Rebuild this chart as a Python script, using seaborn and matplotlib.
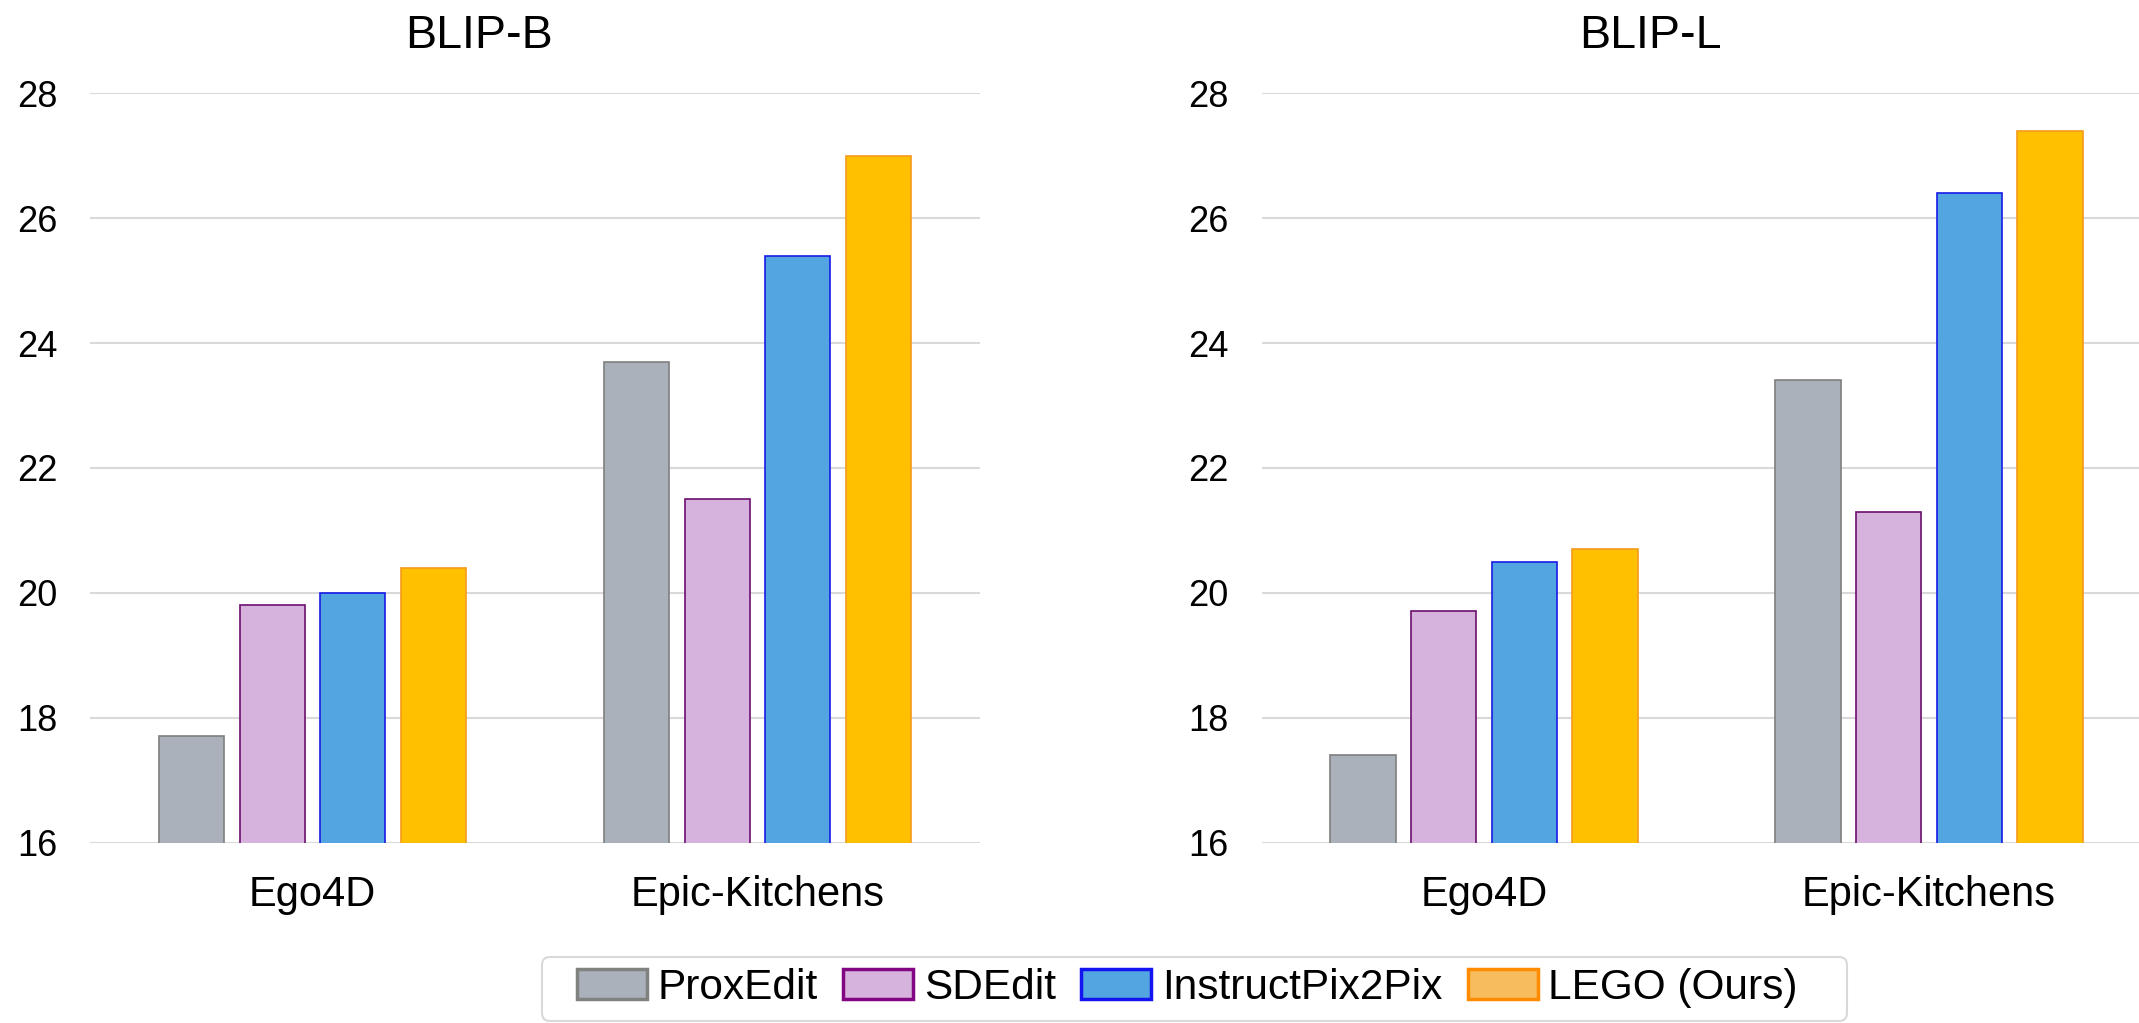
import matplotlib
matplotlib.use("Agg")
import matplotlib.pyplot as plt
from matplotlib.patches import Patch, FancyBboxPatch
from matplotlib.transforms import IdentityTransform
import seaborn as sns
import pandas as pd

# ---- data -------------------------------------------------------------
datasets = ["Ego4D", "Epic-Kitchens"]
methods = ["ProxEdit", "SDEdit", "InstructPix2Pix", "LEGO (Ours)"]
panel_titles = ["BLIP-B", "BLIP-L"]

blip_b_ego4d = [17.7, 19.8, 20.0, 20.4]
blip_b_epic = [23.7, 21.5, 25.4, 27.0]
blip_l_ego4d = [17.4, 19.7, 20.5, 20.7]
blip_l_epic = [23.4, 21.3, 26.4, 27.4]

y_ticks = [16, 18, 20, 22, 24, 26, 28]

# ---- styling ----------------------------------------------------------
bar_fill = ["#ABB1BA", "#D5B3DC", "#52A5E0", "#FFC000"]
bar_edge = ["#7F7F7F", "#6C0F6E", "#1A1AE6", "#F59A1B"]
legend_fill = ["#ABB1BA", "#D5B3DC", "#52A5E0", "#F7BC5E"]
legend_edge = ["#7F827F", "#820582", "#1414F0", "#FF8C00"]
grid_color = "#D9D9D9"

sns.set_theme(style="white")
plt.rcParams["font.family"] = ["Liberation Sans", "DejaVu Sans"]
plt.rcParams["text.color"] = "black"


def long_frame(ego, epic):
    rows = []
    for m, v in zip(methods, ego):
        rows.append({"dataset": datasets[0], "method": m, "score": v})
    for m, v in zip(methods, epic):
        rows.append({"dataset": datasets[1], "method": m, "score": v})
    return pd.DataFrame(rows)


frames = [long_frame(blip_b_ego4d, blip_b_epic),
          long_frame(blip_l_ego4d, blip_l_epic)]

W, H, DPI = 2139, 1023, 100
fig = plt.figure(figsize=(W / DPI, H / DPI), dpi=DPI)

ax_w = 890 / W
ax_bottom = 1 - 842.5 / H
ax_top = 1 - 93.3 / H
lefts = [90 / W, 1261.5 / W]

for left, df, title in zip(lefts, frames, panel_titles):
    ax = fig.add_axes([left, ax_bottom, ax_w, ax_top - ax_bottom])
    sns.barplot(data=df, x="dataset", y="score", hue="method",
                hue_order=methods, order=datasets, palette=bar_fill,
                saturation=1, width=0.725, gap=0.19, legend=False,
                ax=ax, zorder=3)
    for cont, ec in zip(ax.containers, bar_edge):
        for bar in cont:
            bar.set_edgecolor(ec)
            bar.set_linewidth(1.2)
    ax.set_xlim(-0.5, 1.5)
    ax.set_ylim(16, 28)
    ax.set_yticks(y_ticks)
    ax.set_yticklabels([str(t) for t in y_ticks])
    ax.set_xlabel("")
    ax.set_ylabel("")
    ax.grid(axis="y", color=grid_color, linewidth=1.5, zorder=0)
    ax.grid(axis="x", visible=False)
    ax.set_axisbelow(True)
    for s in ax.spines.values():
        s.set_visible(False)
    ax.tick_params(axis="y", length=0, pad=23.5, labelsize=26, colors="black")
    ax.tick_params(axis="x", length=0, pad=23.5, labelsize=30, colors="black")
    ax.set_title(title, x=0.437, fontsize=33.5, pad=32.5, color="black")

# ---- legend -----------------------------------------------------------
handles = [Patch(facecolor=f, edgecolor=e, linewidth=2.5, label=m)
           for f, e, m in zip(legend_fill, legend_edge, methods)]
fig.legend(handles=handles, loc="center", ncol=4, frameon=False,
           bbox_to_anchor=(1187.5 / W, 1 - 988 / H), fontsize=30.5,
           handlelength=1.65, handleheight=0.71, handletextpad=0.25,
           columnspacing=0.6, borderpad=0, borderaxespad=0,
           labelcolor="black")

frame = FancyBboxPatch((542, 2), 1847 - 542, 1021 - 957,
                       boxstyle="round,pad=0,rounding_size=8",
                       facecolor="none", edgecolor=grid_color,
                       linewidth=1.5, transform=IdentityTransform())
fig.patches.append(frame)

fig.savefig("out.png", dpi=DPI)
